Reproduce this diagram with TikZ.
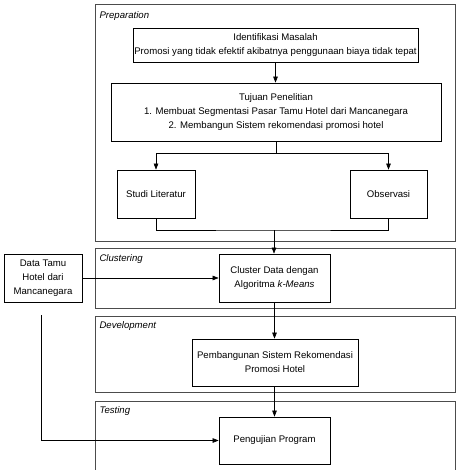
\documentclass[tikz,border=0pt]{standalone}
\usepackage{fontspec}
\setmainfont{Liberation Sans}
\usetikzlibrary{arrows.meta}
\begin{document}
\begin{tikzpicture}[x=1pt,y=-1pt, font=\fontsize{9.6}{14}\selectfont,
 panel/.style={draw=black!70, line width=0.9pt},
 box/.style={draw, line width=0.7pt, align=center, inner sep=1pt},
 arr/.style={-{Triangle[length=6pt,width=4.5pt]}, line width=0.6pt},
 ln/.style={line width=0.6pt},
 plabel/.style={anchor=west, font=\fontsize{9.6}{11}\selectfont\itshape}]
\useasboundingbox (0,0) rectangle (460,470);
% panels
\draw[panel] (95,4) rectangle (455,241);
\draw[panel] (95,248) rectangle (455,308);
\draw[panel] (95,316) rectangle (455,392);
\draw[panel] (95,472) -- (95,401) -- (455,401) -- (455,472);
\node[plabel] (lprep) at (96,16) {Preparation};
\node[plabel] (lclus) at (96,259) {Clustering};
\node[plabel] (ldev) at (96,326) {Development};
\node[plabel] (ltest) at (96,411) {Testing};
% boxes
\node[box, minimum width=285pt, minimum height=34pt] (ident) at (275.5,45) {Identifikasi Masalah\\Promosi yang tidak efektif akibatnya penggunaan biaya tidak tepat};
\node[box, minimum width=330pt, minimum height=58pt] (tujuan) at (276,112) {Tujuan Penelitian\\1. Membuat Segmentasi Pasar Tamu Hotel dari Mancanegara\\2. Membangun Sistem rekomendasi promosi hotel};
\node[box, minimum width=78pt, minimum height=48pt] (studi) at (156,194) {Studi Literatur};
\node[box, minimum width=77pt, minimum height=48pt] (obs) at (388.5,194) {Observasi};
\node[box, minimum width=111pt, minimum height=48pt] (cluster) at (274.5,278) {Cluster Data dengan\\Algoritma \textit{k-Means}};
\node[box, minimum width=78pt, minimum height=48pt] (data) at (43,278) {Data Tamu\\Hotel dari\\Mancanegara};
\node[box, minimum width=166pt, minimum height=47pt] (pemb) at (275,362.5) {Pembangunan Sistem Rekomendasi\\Promosi Hotel};
\node[box, minimum width=111pt, minimum height=47pt] (peng) at (274.5,440.5) {Pengujian Program};
% connectors
\draw[arr] (ident) -- (ident |- tujuan.north);
\draw[arr] (tujuan.south) -- ++(0,12) -| (studi.north);
\draw[arr] (tujuan.south) -- ++(0,12) -| (obs.north);
\coordinate (join) at (274,230);
\draw[ln] (studi.south) |- (join) -| (obs.south);
\draw[arr] (join) -- (join |- cluster.north);
\draw[arr] (data.east) -- (cluster.west);
\draw[arr] (cluster) -- (cluster |- pemb.north);
\draw[arr] (pemb.south -| peng.north) -- (peng.north);
\coordinate (dstart) at (41,315);
\draw[arr] (dstart) |- (peng.west);
\end{tikzpicture}
\end{document}
